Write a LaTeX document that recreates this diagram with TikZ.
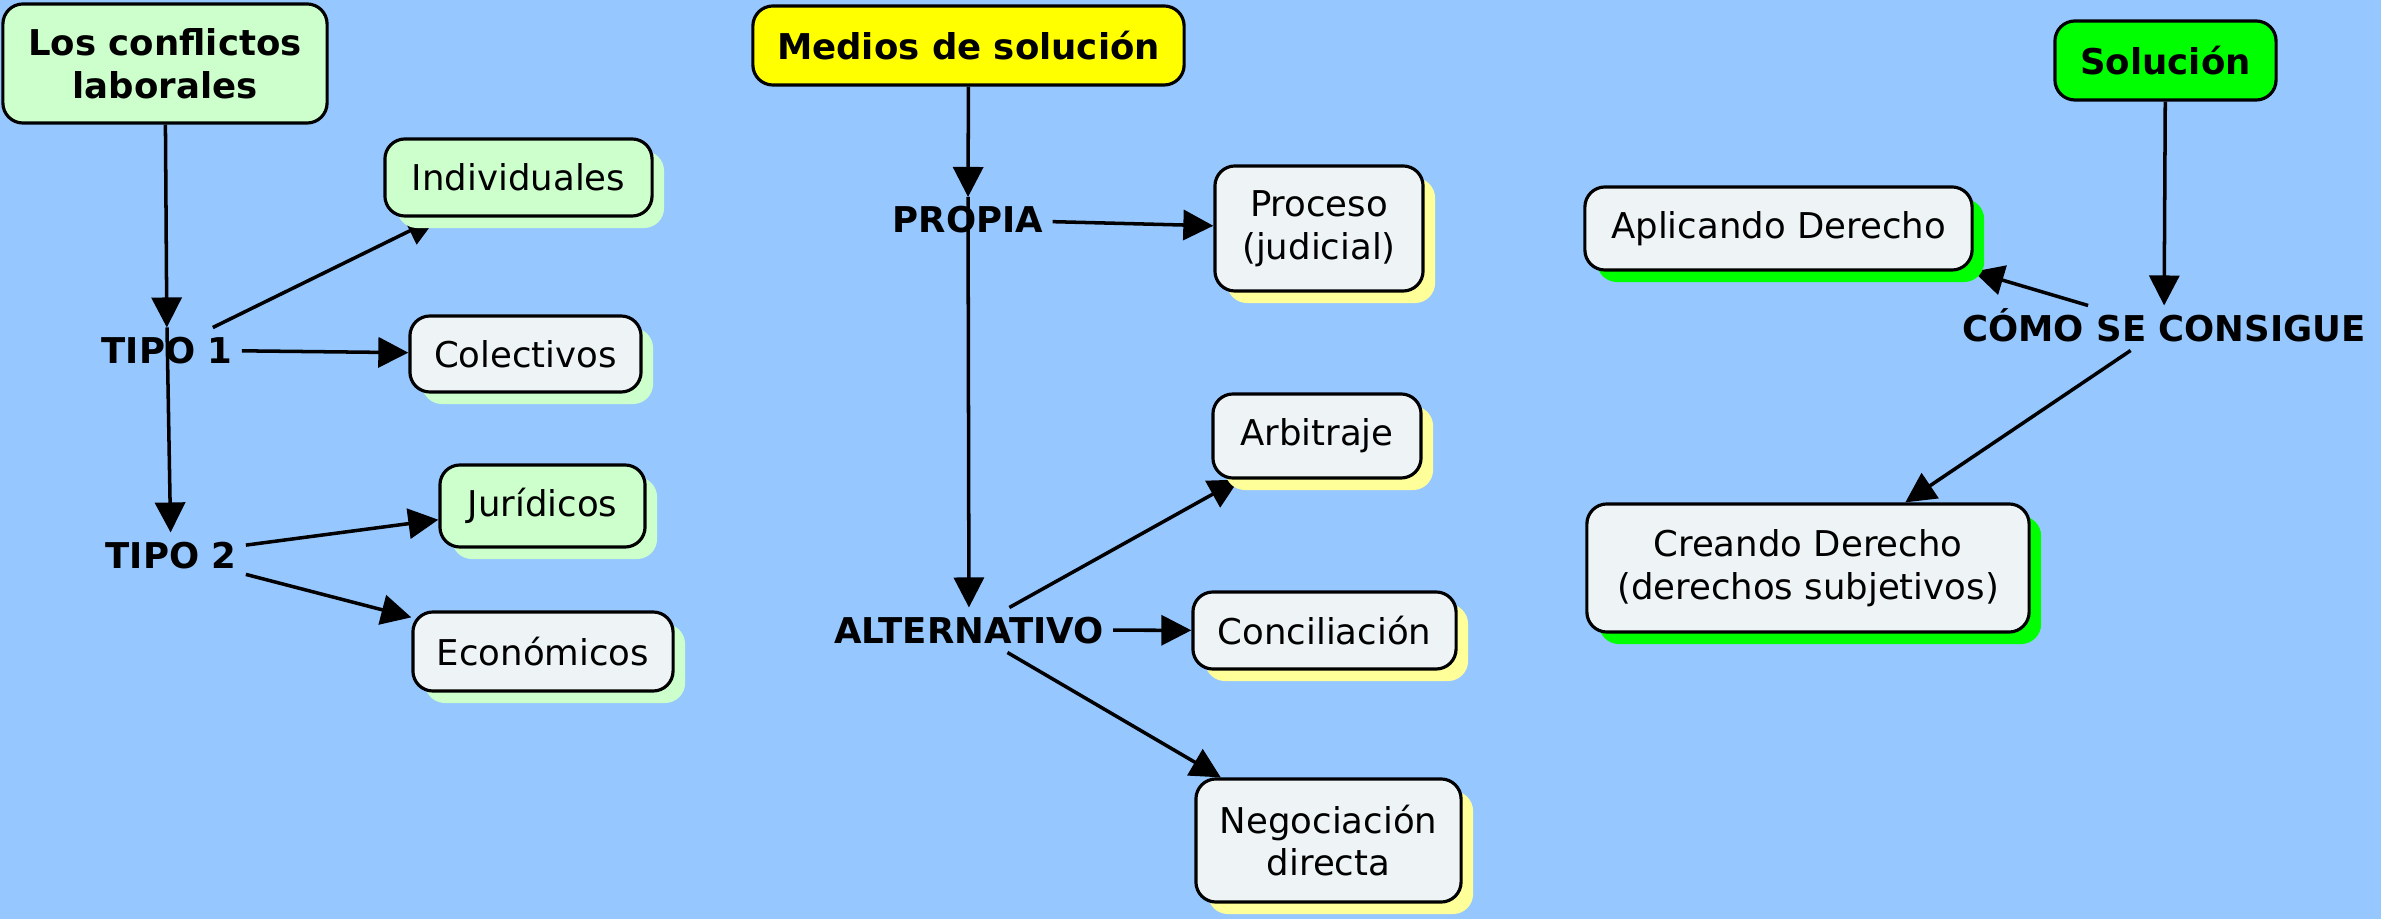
\documentclass[tikz,border=0pt]{standalone}
\usepackage{fontspec}
\setmainfont{DejaVu Sans}
\usetikzlibrary{arrows.meta, shadows}

\definecolor{fondo}{HTML}{96C8FF}
\definecolor{verdeclaro}{HTML}{CCFFCC}
\definecolor{gris}{HTML}{EEF4F6}
\definecolor{amarillo}{HTML}{FFFF00}
\definecolor{amarilloclaro}{HTML}{FFFF99}
\definecolor{verde}{HTML}{00FF00}

\pgfdeclarelayer{flechas}
\pgfsetlayers{flechas,main}

\begin{document}
\begin{tikzpicture}[x=0.01cm, y=-0.01cm,
    caja/.style={draw, line width=0.9pt, rounded corners=0.2cm, align=center, inner sep=0pt,
      font=\fontsize{10.1}{12.2}\selectfont},
    titulo/.style={caja, font=\fontsize{10.1}{12.2}\selectfont\bfseries},
    enlace/.style={font=\fontsize{10.1}{12.2}\selectfont\bfseries, text height=7.4pt, text depth=0pt, inner sep=2.5pt},
    sombra/.style={drop shadow={fill=#1, opacity=1, shadow xshift=0.12cm, shadow yshift=-0.12cm}},
    flecha/.style={line width=1pt, -{Triangle[length=0.3cm, width=0.3cm]}}
  ]
  \useasboundingbox (0,0) rectangle (2381,919);

  % Los conflictos laborales
  \node[titulo, fill=verdeclaro, minimum width=3.24cm, minimum height=1.19cm] (conflictos) at (165,63.5) {Los conflictos\\laborales};
  \node[enlace] (tipo1) at (167,350) {TIPO 1};
  \node[enlace] (tipo2) at (171,555) {TIPO 2};
  \node[caja, fill=verdeclaro, sombra=verdeclaro, minimum width=2.67cm, minimum height=0.77cm] (individuales) at (518.5,177.5) {Individuales};
  \node[caja, fill=gris, sombra=verdeclaro, minimum width=2.31cm, minimum height=0.76cm] (colectivos) at (525.5,354) {Colectivos};
  \node[caja, fill=verdeclaro, sombra=verdeclaro, minimum width=2.05cm, minimum height=0.82cm] (juridicos) at (542.5,506) {Jurídicos};
  \node[caja, fill=gris, sombra=verdeclaro, minimum width=2.60cm, minimum height=0.79cm] (economicos) at (543,651.5) {Económicos};

  % Medios de solucion
  \node[titulo, fill=amarillo, minimum width=4.31cm, minimum height=0.79cm] (medios) at (968.5,45.5) {Medios de solución};
  \node[enlace] (propia) at (968,219.5) {PROPIA};
  \node[enlace] (alternativo) at (969,630) {ALTERNATIVO};
  \node[caja, fill=gris, sombra=amarilloclaro, minimum width=2.08cm, minimum height=1.25cm] (proceso) at (1319,228.5) {Proceso\\(judicial)};
  \node[caja, fill=gris, sombra=amarilloclaro, minimum width=2.08cm, minimum height=0.84cm] (arbitraje) at (1317,436) {Arbitraje};
  \node[caja, fill=gris, sombra=amarilloclaro, minimum width=2.63cm, minimum height=0.77cm] (conciliacion) at (1324.5,630.5) {Conciliación};
  \node[caja, fill=gris, sombra=amarilloclaro, minimum width=2.65cm, minimum height=1.23cm] (negociacion) at (1328.5,840.5) {Negociación\\directa};

  % Solucion
  \node[titulo, fill=verde, minimum width=2.21cm, minimum height=0.79cm] (solucion) at (2165.5,60.5) {Solución};
  \node[enlace] (como) at (2164,328) {CÓMO SE CONSIGUE};
  \node[caja, fill=gris, sombra=verde, minimum width=3.87cm, minimum height=0.83cm] (aplicando) at (1778.5,228.5) {Aplicando Derecho};
  \node[caja, fill=gris, sombra=verde, minimum width=4.42cm, minimum height=1.28cm] (creando) at (1808,568) {Creando Derecho\\(derechos subjetivos)};

  % Fondo y flechas, debajo de las cajas
  \begin{pgfonlayer}{flechas}
    \fill[fondo] (0,0) rectangle (2381,919);
    \draw[flecha] (conflictos) -- (tipo1);
    \draw[flecha] (tipo1.north) -- (tipo2);
    \draw[flecha] (tipo1) -- (individuales);
    \draw[flecha] (tipo1) -- (colectivos);
    \draw[flecha] (tipo2) -- (juridicos);
    \draw[flecha] (tipo2) -- (economicos);
    \draw[flecha] (medios) -- (propia);
    \draw[flecha] (propia) -- (proceso);
    \draw[flecha] (propia.north) -- (alternativo);
    \draw[flecha] (alternativo) -- (arbitraje);
    \draw[flecha] (alternativo) -- (conciliacion);
    \draw[flecha] (alternativo) -- (negociacion);
    \draw[flecha] (solucion) -- (como);
    \draw[flecha] (como) -- (aplicando.south east);
    \draw[flecha] (como) -- (creando);
  \end{pgfonlayer}
\end{tikzpicture}
\end{document}
